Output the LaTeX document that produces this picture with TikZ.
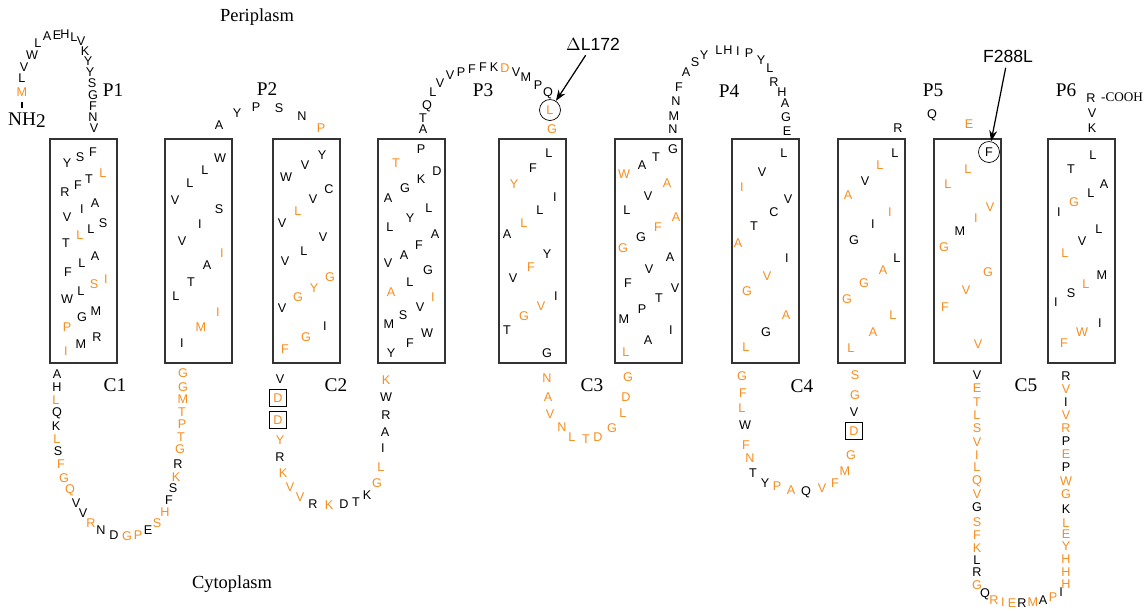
\documentclass[tikz,border=0pt]{standalone}
\usepackage{fontspec}
\setmainfont{Liberation Serif}
\setsansfont{Liberation Sans}
\usetikzlibrary{arrows.meta}
\definecolor{hydroorange}{RGB}{247,141,30}

\begin{document}
\begin{tikzpicture}[
    x=0.02cm, y=-0.02cm,
    aa/.style={inner sep=0pt, font=\sffamily\fontsize{7.2}{8}\selectfont, text=black},
    hp/.style={aa, text=hydroorange},
    ring/.style={draw, circle, minimum size=0.42cm, thin},
    boxed/.style={draw, rectangle, minimum size=0.34cm, thin},
    helix/.style={draw=black!80, line width=0.7pt},
    region/.style={inner sep=1pt, font=\fontsize{11}{12}\selectfont},
    side/.style={inner sep=1pt, font=\fontsize{10.5}{12}\selectfont},
    callout/.style={inner sep=1pt, font=\sffamily\fontsize{10}{12}\selectfont},
    pointer/.style={-{Stealth[length=2.2mm, width=1.6mm]}, line width=0.7pt}
  ]
  \useasboundingbox (0,0) rectangle (1144,610);

  % membrane helices
  \foreach \l in {50,165,273,378,499,615,732,838,934,1048}
    \draw[helix] (\l,139) rectangle ++(67,224);

  % side and loop labels
  \node[side] (peri) at (257,17) {Periplasm};
  \node[side] (cyto) at (232,584) {Cytoplasm};
  \foreach \t/\x/\y in {P1/113/90, P2/267/89, P3/483/90, P4/729/91, P5/933/90, P6/1066/90,
                        C1/115/385, C2/336/385, C3/592/385, C4/802/386, C5/1026/385}
    \node[region] (\t) at (\x,\y) {\t};
  \node[region] (nh) at (27,120) {NH\raisebox{-0.3ex}{2}};
  \node[inner sep=1pt, font=\fontsize{7.5}{9}\selectfont] (cooh) at (1122,97) {-COOH};

  % N terminus and P1
  \foreach \x/\y/\a/\s [count=\i] in {22/92/M/hp, 22/78/L/aa, 24/67/V/aa, 32/55/W/aa, 38/43/L/aa,
      47/36/A/aa, 57/35/E/aa, 65/34/H/aa, 74/37/L/aa, 81/41/V/aa, 85/51/K/aa, 88/61/Y/aa,
      90/72/Y/aa, 92/83/S/aa, 93/95/G/aa, 93/106/F/aa, 93/117/N/aa, 94/128/V/aa}
    \node[\s] (nt-\i) at (\x,\y) {\a};
  \draw[line width=1pt, shorten <=3pt, shorten >=1pt] (nt-1.south) -- (nt-1.south |- nh.north);

  % helix 1
  \foreach \x/\y/\a/\s [count=\i] in {93/152/F/aa, 80/157/S/aa, 67/163/Y/aa, 103/173/L/hp,
      89/179/T/aa, 78/185/F/aa, 65/192/R/aa, 95/203/A/aa, 82/209/I/aa, 67/217/V/aa,
      103/223/S/aa, 91/229/L/aa, 80/235/L/hp, 66/243/T/aa, 95/256/A/aa, 82/263/L/aa,
      68/272/F/aa, 106/279/I/hp, 94/284/S/hp, 81/291/L/aa, 67/299/W/aa, 96/311/M/aa,
      82/317/G/aa, 67/327/P/hp, 97/337/R/aa, 81/344/M/aa, 66/351/I/hp}
    \node[\s] (h1-\i) at (\x,\y) {\a};

  % C1
  \foreach \x/\y/\a/\s [count=\i] in {57/374/A/aa, 57/387/H/aa, 56/400/L/hp, 57/413/Q/aa,
      56/426/K/aa, 57/439/L/hp, 58/451/S/aa, 61/464/F/hp, 64/478/G/hp, 70/490/Q/hp,
      76/503/V/aa, 83/513/V/aa, 91/523/R/hp, 101/530/N/aa, 114/535/D/aa, 127/536/G/hp,
      138/535/P/hp, 148/530/E/aa, 157/523/S/hp, 165/512/H/hp, 169/500/F/aa, 173/488/S/aa,
      176/477/K/hp, 178/464/R/aa, 180/449/G/hp, 181/437/T/hp, 182/424/P/hp, 182/412/T/hp,
      183/399/M/hp, 183/387/G/hp, 183/373/G/hp}
    \node[\s] (c1-\i) at (\x,\y) {\a};

  % helix 2
  \foreach \x/\y/\a/\s [count=\i] in {220/158/W/aa, 205/170/L/aa, 190/183/L/aa, 175/200/V/aa,
      219/209/S/aa, 200/224/I/aa, 182/241/V/aa, 222/253/I/hp, 207/265/A/aa, 191/282/T/aa,
      176/296/L/aa, 218/312/I/hp, 201/327/M/hp, 182/343/I/aa}
    \node[\s] (h2-\i) at (\x,\y) {\a};

  % P2
  \foreach \x/\y/\a/\s [count=\i] in {219/125/A/aa, 237/113/Y/aa, 256/107/P/aa, 279/108/S/aa,
      302/116/N/aa, 321/128/P/hp}
    \node[\s] (p2-\i) at (\x,\y) {\a};

  % helix 3
  \foreach \x/\y/\a/\s [count=\i] in {322/155/Y/aa, 305/165/V/aa, 286/177/W/aa, 329/189/C/aa,
      313/199/V/aa, 298/211/L/hp, 282/223/V/aa, 323/237/V/aa, 304/251/L/aa, 285/261/V/aa,
      330/277/G/hp, 314/288/Y/hp, 298/297/G/hp, 282/308/V/aa, 325/326/I/aa, 306/337/G/hp,
      285/349/F/hp}
    \node[\s] (h3-\i) at (\x,\y) {\a};

  % C2
  \foreach \x/\y/\a/\s [count=\i] in {280/379/V/aa, 280/440/Y/hp, 280/457/R/aa, 283/473/K/hp,
      290/487/V/hp, 300/497/V/hp, 313/504/R/aa, 329/505/K/hp, 344/504/D/aa, 356/502/T/aa,
      367/495/K/aa, 377/483/G/hp, 381/467/L/hp, 383/448/I/aa, 385/432/A/aa, 386/415/R/aa,
      386/397/W/aa, 386/380/K/hp}
    \node[\s] (c2-\i) at (\x,\y) {\a};
  \node[hp, boxed] (dd1) at (278,398) {D};
  \node[hp, boxed] (dd2) at (278,420) {D};

  % helix 4
  \foreach \x/\y/\a/\s [count=\i] in {421/149/P/aa, 396/163/T/hp, 437/171/D/aa, 421/179/K/aa,
      405/188/G/aa, 388/198/A/aa, 429/208/L/aa, 410/218/Y/aa, 390/227/L/aa, 435/234/A/aa,
      419/245/F/aa, 404/255/A/aa, 388/263/V/aa, 428/270/G/aa, 410/282/L/aa, 391/292/A/hp,
      433/297/I/hp, 420/307/V/aa, 403/315/S/aa, 389/324/M/aa, 427/333/W/aa, 410/343/F/aa,
      391/353/Y/aa}
    \node[\s] (h4-\i) at (\x,\y) {\a};

  % P3
  \foreach \x/\y/\a/\s [count=\i] in {423/129/A/aa, 423/118/T/aa, 427/106/Q/aa, 433/92/L/aa,
      440/83/V/aa, 450/75/V/aa, 461/72/P/aa, 472/69/F/aa, 483/67/F/aa, 494/67/K/aa,
      505/68/D/hp, 516/72/V/aa, 526/77/M/aa, 538/85/P/aa, 548/93/Q/aa, 552/129/G/hp}
    \node[\s] (p3-\i) at (\x,\y) {\a};
  \node[hp, ring] (del) at (550,110) {L};
  \node[callout] (dlab) at (593,44) {$\Delta$L172};
  \draw[pointer, shorten <=2pt] (dlab) -- (del);

  % helix 5
  \foreach \x/\y/\a/\s [count=\i] in {549/153/L/aa, 533/168/F/aa, 514/184/Y/hp, 555/197/I/aa,
      540/210/L/aa, 524/223/L/hp, 507/234/A/aa, 547/254/Y/aa, 531/267/F/hp, 513/278/V/aa,
      556/296/I/aa, 541/306/V/hp, 524/316/G/hp, 507/330/T/aa, 547/353/G/aa}
    \node[\s] (h5-\i) at (\x,\y) {\a};

  % C3
  \foreach \x/\y/\a/\s [count=\i] in {547/378/N/hp, 548/397/A/hp, 550/414/V/hp, 562/427/N/hp,
      572/437/L/hp, 586/439/T/hp, 598/437/D/hp, 612/428/G/hp, 623/413/L/hp, 626/397/D/hp,
      628/377/G/hp}
    \node[\s] (c3-\i) at (\x,\y) {\a};

  % helix 6
  \foreach \x/\y/\a/\s [count=\i] in {673/149/G/aa, 656/157/T/aa, 642/165/A/aa, 624/174/W/hp,
      667/183/A/hp, 648/196/V/aa, 627/210/L/aa, 676/217/A/hp, 658/227/F/hp, 641/237/G/aa,
      623/248/G/hp, 670/257/A/aa, 649/269/V/aa, 628/283/F/aa, 675/288/V/aa, 659/298/T/aa,
      642/309/P/aa, 624/319/M/aa, 671/330/I/aa, 648/340/A/aa, 626/352/L/hp}
    \node[\s] (h6-\i) at (\x,\y) {\a};

  % P4
  \foreach \x/\y/\a/\s [count=\i] in {673/129/N/aa, 674/116/M/aa, 676/101/N/aa, 679/87/F/aa,
      686/72/A/aa, 695/62/S/aa, 704/55/Y/aa, 719/50/L/aa, 728/50/H/aa, 738/51/I/aa,
      749/53/P/aa, 761/60/Y/aa, 770/68/L/aa, 774/82/R/aa, 782/92/H/aa, 785/103/A/aa,
      786/117/G/aa, 787/131/E/aa}
    \node[\s] (p4-\i) at (\x,\y) {\a};

  % helix 7
  \foreach \x/\y/\a/\s [count=\i] in {784/153/L/aa, 762/172/V/aa, 742/187/I/hp, 788/199/V/aa,
      774/212/C/aa, 754/226/T/aa, 738/243/A/hp, 787/258/I/aa, 767/276/V/hp, 747/291/G/hp,
      786/315/A/hp, 766/332/G/aa, 746/347/L/hp}
    \node[\s] (h7-\i) at (\x,\y) {\a};

  % C4
  \foreach \x/\y/\a/\s [count=\i] in {742/376/G/hp, 743/393/F/hp, 742/408/L/hp, 745/425/W/aa,
      746/445/F/hp, 750/458/N/hp, 753/473/T/aa, 765/483/Y/aa, 777/486/P/hp, 791/490/A/hp,
      806/492/Q/aa, 822/488/V/hp, 835/483/F/hp, 845/471/M/hp, 851/455/G/hp, 854/412/V/aa,
      855/395/G/hp, 855/375/S/hp}
    \node[\s] (c4-\i) at (\x,\y) {\a};
  \node[hp, boxed] (dd3) at (854,431) {D};

  % helix 8
  \foreach \x/\y/\a/\s [count=\i] in {895/153/L/aa, 880/165/L/hp, 865/181/V/aa, 848/195/A/hp,
      890/212/I/hp, 873/224/I/aa, 854/240/G/aa, 897/258/L/aa, 883/270/A/hp, 864/283/G/hp,
      847/299/G/hp, 893/315/L/hp, 873/332/A/hp, 851/348/L/hp}
    \node[\s] (h8-\i) at (\x,\y) {\a};

  % P5
  \foreach \x/\y/\a/\s [count=\i] in {898/128/R/aa, 932/115/Q/aa, 969/124/E/hp}
    \node[\s] (p5-\i) at (\x,\y) {\a};

  % helix 9
  \foreach \x/\y/\a/\s [count=\i] in {968/169/L/hp, 948/184/L/hp, 990/207/V/hp, 976/218/I/hp,
      960/231/M/aa, 944/247/G/hp, 988/272/G/hp, 966/290/V/hp, 945/307/F/hp, 978/344/V/hp}
    \node[\s] (h9-\i) at (\x,\y) {\a};
  \node[aa, ring] (mut) at (989,152) {F};
  \node[callout] (flab) at (1008,56) {F288L};
  \draw[pointer, shorten <=2pt] (flab) -- (mut);

  % C5
  \foreach \y/\a/\s [count=\i] in {375/V/aa, 388/E/hp, 402/T/hp, 415/L/hp, 428/S/hp, 442/V/hp,
      455/I/hp, 467/L/hp, 481/Q/hp, 494/V/hp, 507/G/aa, 522/S/hp, 535/F/hp, 548/K/hp,
      560/L/aa, 572/R/aa, 585/G/hp}
    \node[\s] (c5a-\i) at (977,\y) {\a};
  \foreach \x/\y/\a/\s [count=\i] in {985/594/Q/aa, 994/600/R/hp, 1003/602/I/hp, 1012/603/E/hp,
      1022/603/R/aa, 1033/602/M/hp, 1043/600/A/aa, 1053/597/P/hp, 1061/592/I/aa}
    \node[\s] (c5b-\i) at (\x,\y) {\a};
  \foreach \y/\a/\s [count=\i] in {376/R/aa, 389/V/hp, 402/I/aa, 415/V/hp, 428/R/hp, 441/P/aa,
      454/E/hp, 467/P/aa, 481/W/hp, 494/G/hp, 509/K/aa, 523/L/hp, 534/E/hp, 546/Y/hp,
      559/H/hp, 572/H/hp, 584/H/hp}
    \node[\s] (c5c-\i) at (1066,\y) {\a};

  % helix 10 and C terminus
  \foreach \x/\y/\a/\s [count=\i] in {1093/155/L/aa, 1071/169/T/aa, 1104/184/A/aa, 1091/193/L/aa,
      1074/202/G/hp, 1059/212/I/aa, 1099/229/L/aa, 1082/241/V/aa, 1065/253/L/hp, 1102/275/M/aa,
      1086/284/L/hp, 1071/293/S/aa, 1056/302/I/aa, 1100/323/I/aa, 1082/332/W/hp, 1064/343/F/hp}
    \node[\s] (h10-\i) at (\x,\y) {\a};
  \foreach \x/\y/\a/\s [count=\i] in {1092/128/K/aa, 1092/113/V/aa, 1091/98/R/aa}
    \node[\s] (ct-\i) at (\x,\y) {\a};
\end{tikzpicture}
\end{document}
